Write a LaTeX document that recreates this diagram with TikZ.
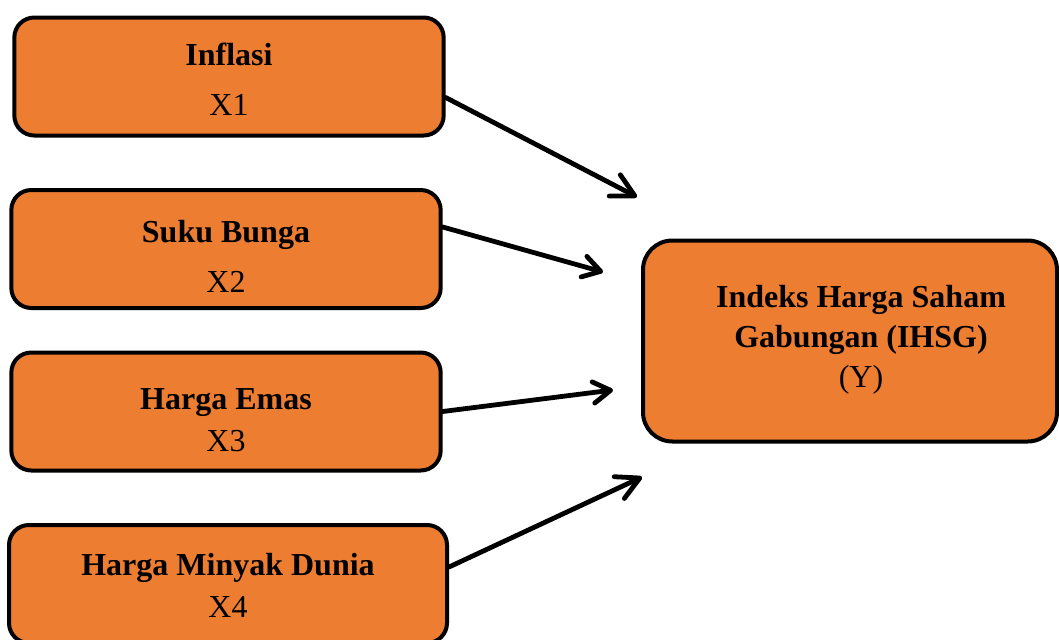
\documentclass[tikz,border=0pt]{standalone}
\usepackage{fontspec}
\setmainfont{Liberation Serif}
\usetikzlibrary{arrows.meta, positioning}
\definecolor{boxorange}{RGB}{237,125,49}

\begin{document}
\begin{tikzpicture}[x=0.75pt, y=-0.75pt,
  varbox/.style={draw=black, line width=3pt, fill=boxorange, rounded corners=15pt,
    minimum width=322pt, minimum height=88.5pt, inner sep=0pt},
  vartext/.style={align=center, inner sep=0pt, font=\fontsize{24}{30}\selectfont},
  bigflow/.style={line width=3.6pt, line cap=round, -{Straight Barb[length=17pt,width=18pt,round]}},
  smallflow/.style={line width=3.6pt, line cap=round, -{Straight Barb[length=13pt,width=16pt,round]}}]
  \useasboundingbox (0,0) rectangle (1059,639);
  % independent variables
  \node[varbox] (x1) at (229,76.5) {};
  \node[varbox] (x2) at (226,249) {};
  \node[varbox] (x3) at (226,411.5) {};
  \node[varbox, minimum width=328.5pt] (x4) at (228,584) {};
  \node[vartext] (x1t) at (229,79) {\textbf{Inflasi}\\[7.5pt]X1};
  \node[vartext] (x2t) at (226,256) {\textbf{Suku Bunga}\\[7.5pt]X2};
  \node[vartext] (x3t) at (226,420) {\textbf{Harga Emas}\\[1.5pt]X3};
  \node[vartext] (x4t) at (228,585) {\textbf{Harga Minyak Dunia}\\[1.5pt]X4};
  % dependent variable
  \node[varbox, minimum width=310.5pt, minimum height=150.75pt, rounded corners=22pt] (y) at (850,341) {};
  \node[vartext] (yt) at (861,340) {\textbf{Indeks Harga Saham}\\\textbf{Gabungan (IHSG)}\\(Y)};
  % arrow tips
  \coordinate (t1) at (637,197);
  \coordinate (t2) at (603,272);
  \coordinate (t3) at (613,390);
  \coordinate (t4) at (642,477);
  % arrows
  \draw[bigflow] ([yshift=-15.75pt]x1.east) -- (t1);
  \draw[smallflow] ([yshift=16.5pt]x2.east) -- (t2);
  \draw[smallflow] (x3.east) -- (t3);
  \draw[bigflow] ([yshift=12.75pt]x4.east) -- (t4);
\end{tikzpicture}
\end{document}
